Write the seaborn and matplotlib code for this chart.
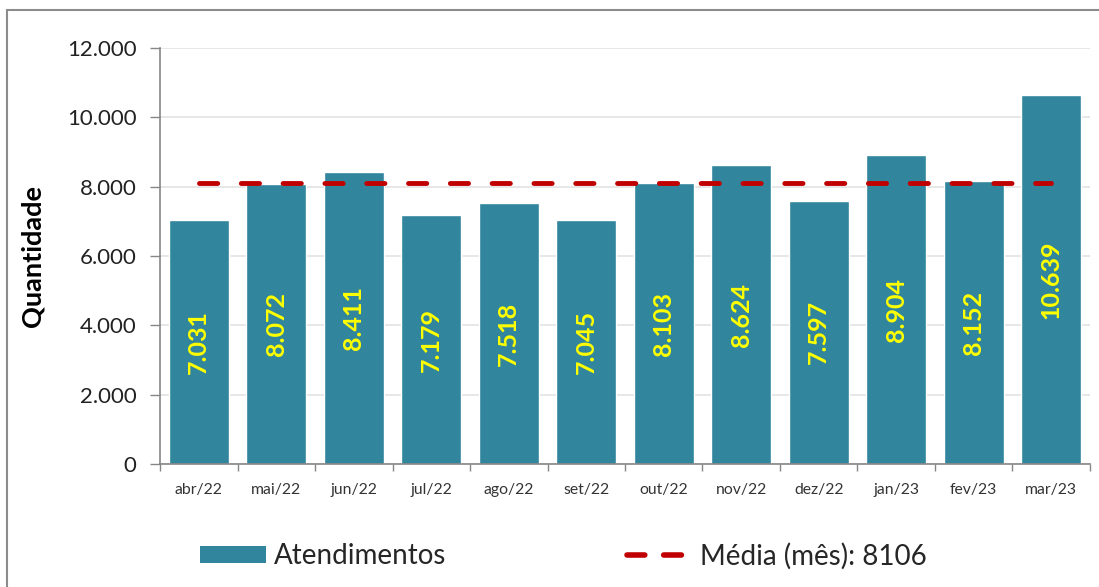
import pandas as pd
import matplotlib.pyplot as plt
import seaborn as sns
from matplotlib.patches import Patch, Rectangle
from matplotlib.lines import Line2D
from matplotlib.ticker import FuncFormatter, FixedLocator

# ----- Dados ----- #
meses = ['abr/22', 'mai/22', 'jun/22', 'jul/22', 'ago/22', 'set/22',
         'out/22', 'nov/22', 'dez/22', 'jan/23', 'fev/23', 'mar/23']
atendimentos = [7031, 8072, 8411, 7179, 7518, 7045, 8103, 8624, 7597, 8904, 8152, 10639]

df = pd.DataFrame({'Mes': meses, 'Atendimentos': atendimentos})
media = df['Atendimentos'].mean()

# cores estilo Excel
cor_barra = '#31859C'
cor_media = '#C00000'

sns.set_theme(style="white")
plt.rcParams['font.family'] = ['Lato', 'DejaVu Sans']

fig = plt.figure(figsize=(10.99, 5.87), dpi=100)
ax = fig.add_axes([0.1456, 0.2095, 0.8462, 0.7087])

sns.barplot(data=df, x='Mes', y='Atendimentos', color=cor_barra, saturation=1,
            width=0.77, ax=ax, zorder=2)

# linha da media (do primeiro ao ultimo mes)
ax.plot([0, len(meses) - 1], [media, media], color=cor_media, lw=3.5,
        linestyle=(0, (3.75, 4.85)), dash_capstyle='round', zorder=3)

# rotulos dentro das barras
for i, v in enumerate(atendimentos):
    ax.text(i, v / 2, f'{v:,}'.replace(',', '.'), rotation=90, ha='center', va='center',
            color='#FFFF00', fontsize=18, fontweight='bold', zorder=4)

# eixos
ax.set_ylim(0, 12000)
ax.set_xlim(-0.5, len(meses) - 0.5)
ax.set_yticks(range(0, 12001, 2000))
ax.yaxis.set_major_formatter(FuncFormatter(lambda y, p: f'{int(y):,}'.replace(',', '.')))
ax.yaxis.grid(True, color='#E3E3E3', lw=1.2, zorder=0)
ax.set_axisbelow(True)
ax.tick_params(axis='y', length=7, width=1, color='#868686', labelsize=16, pad=10,
               left=True, labelcolor='#222222')
ax.tick_params(axis='x', which='major', length=0, labelsize=11.3, pad=14, labelcolor='#333333')
ax.xaxis.set_minor_locator(FixedLocator([i - 0.5 for i in range(len(meses) + 1)]))
ax.tick_params(axis='x', which='minor', bottom=True, length=5, width=1, color='#868686')
for s in ['top', 'right']:
    ax.spines[s].set_visible(False)
for s in ['left', 'bottom']:
    ax.spines[s].set_color('#868686')
    ax.spines[s].set_linewidth(1.2)
ax.set_xlabel('')
ax.set_ylabel('Quantidade', fontsize=19.5, fontweight='bold', color='black', labelpad=16)

# legenda
handles = [Patch(facecolor=cor_barra, edgecolor='none'),
           Line2D([0], [0], color=cor_media, lw=4, linestyle=(0, (3.2, 3.4)), dash_capstyle='round')]
fig.legend(handles, ['Atendimentos', f'Média (mês): {media:.0f}'], loc='center',
           bbox_to_anchor=(0.513, 0.053), ncol=2, frameon=False, fontsize=20,
           handlelength=2.35, handleheight=0.6, handletextpad=0.3, columnspacing=6.5)

# moldura do grafico
fig.add_artist(Rectangle((7 / 1099, -0.02), 1.0, 1 - 9.5 / 587 + 0.02, transform=fig.transFigure,
                         fill=False, edgecolor='#8C8C8C', lw=1.5))

fig.savefig('out.png', dpi=100)
